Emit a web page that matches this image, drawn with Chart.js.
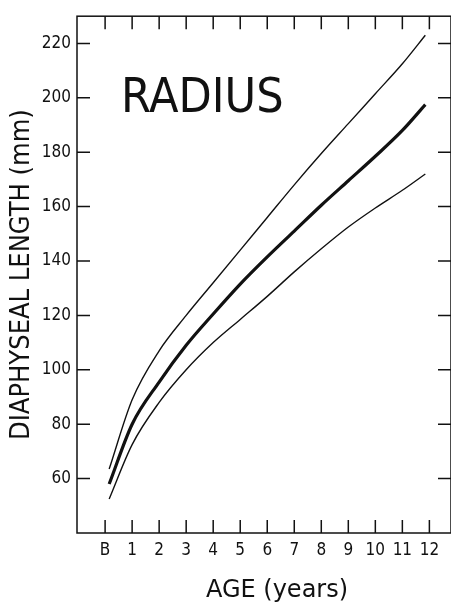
<!DOCTYPE html>
<html>
<head>
<meta charset="utf-8">
<script src="https://cdn.jsdelivr.net/npm/chart.js@4"></script>
<style>
  body { margin: 0; background: #fff; }
  canvas { display: block; }
</style>
</head>
<body>
<canvas id="myChart" width="451" height="604"></canvas>
<script>
// age in years, B = birth = 0
const ages = [0.15, 1, 2, 3, 4, 5, 6, 7, 8, 9, 10, 11, 11.85]
const upper = [63.5, 89, 107, 120, 132, 144, 156, 168, 179.5, 190.5, 201.5, 212.5, 223]
const median = [58, 80, 95.5, 109, 120.5, 131.5, 141.5, 151, 160.5, 169.5, 178.5, 188, 197.5]
const lower = [52.5, 72.5, 88, 100, 110, 118.5, 127, 136, 144.5, 152.5, 159.5, 166, 172]

const xTickValues = [0, 1, 2, 3, 4, 5, 6, 7, 8, 9, 10, 11, 12]
const xTickLabels = ['B', '1', '2', '3', '4', '5', '6', '7', '8', '9', '10', '11', '12']
const yTickValues = [60, 80, 100, 120, 140, 160, 180, 200, 220]

const ink = '#111'

function pts(vals) {
  return vals.map((v, i) => ({ x: ages[i], y: v }))
}

// frame, inward ticks on all four sides, in-plot label and x title
const frameTicks = {
  id: 'frameTicks',
  afterDraw(chart) {
    const { ctx, chartArea: a, scales: { x, y } } = chart
    ctx.save()
    ctx.strokeStyle = ink
    ctx.lineWidth = 1.5
    ctx.strokeRect(a.left, a.top, a.right - a.left, a.bottom - a.top)
    ctx.beginPath()
    x.ticks.forEach(t => {
      const px = x.getPixelForValue(t.value)
      ctx.moveTo(px, a.bottom); ctx.lineTo(px, a.bottom - 13)
      ctx.moveTo(px, a.top); ctx.lineTo(px, a.top + 13)
    })
    y.ticks.forEach(t => {
      const py = y.getPixelForValue(t.value)
      ctx.moveTo(a.left, py); ctx.lineTo(a.left + 13, py)
      ctx.moveTo(a.right, py); ctx.lineTo(a.right - 13, py)
    })
    ctx.stroke()

    ctx.fillStyle = ink
    ctx.textBaseline = 'alphabetic'
    ctx.font = '48px "DejaVu Sans Condensed"'
    ctx.fillText('RADIUS', a.left + 44, 112)

    ctx.textAlign = 'center'
    ctx.font = '24px "DejaVu Sans"'
    ctx.fillText('AGE (years)', (a.left + a.right) / 2 + 13, 597)
    ctx.restore()
  }
}

const ctx = document.getElementById('myChart')

new Chart(ctx, {
  type: 'line',
  data: {
    datasets: [
      { label: 'upper', data: pts(upper), borderColor: ink, borderWidth: 1.4 },
      { label: 'mean', data: pts(median), borderColor: ink, borderWidth: 3.2 },
      { label: 'lower', data: pts(lower), borderColor: ink, borderWidth: 1.4 }
    ]
  },
  options: {
    responsive: false,
    animation: false,
    layout: { padding: { top: 11, right: 0 } },
    elements: {
      point: { radius: 0 },
      line: { cubicInterpolationMode: 'monotone', fill: false }
    },
    plugins: {
      legend: { display: false },
      tooltip: { enabled: false }
    },
    scales: {
      x: {
        type: 'linear',
        min: -1.04,
        max: 12.8,
        afterBuildTicks: s => { s.ticks = xTickValues.map(v => ({ value: v })) },
        afterFit: s => { s.height = 71 },
        grid: { drawOnChartArea: false, drawTicks: false },
        border: { display: false },
        ticks: {
          padding: 7,
          color: ink,
          font: { family: 'DejaVu Sans Condensed', size: 17 },
          maxRotation: 0,
          callback: v => xTickLabels[xTickValues.indexOf(v)]
        }
      },
      y: {
        min: 40,
        max: 230,
        afterBuildTicks: s => { s.ticks = yTickValues.map(v => ({ value: v })) },
        afterFit: s => { s.width = 77 },
        grid: { drawOnChartArea: false, drawTicks: false },
        border: { display: false },
        ticks: {
          padding: 6,
          color: ink,
          font: { family: 'DejaVu Sans Condensed', size: 17 }
        },
        title: {
          display: true,
          text: 'DIAPHYSEAL LENGTH (mm)',
          color: ink,
          font: { family: 'DejaVu Sans Condensed', size: 27 },
          padding: { top: 6, bottom: 0 }
        }
      }
    }
  },
  plugins: [frameTicks]
})
</script>
</body>
</html>
